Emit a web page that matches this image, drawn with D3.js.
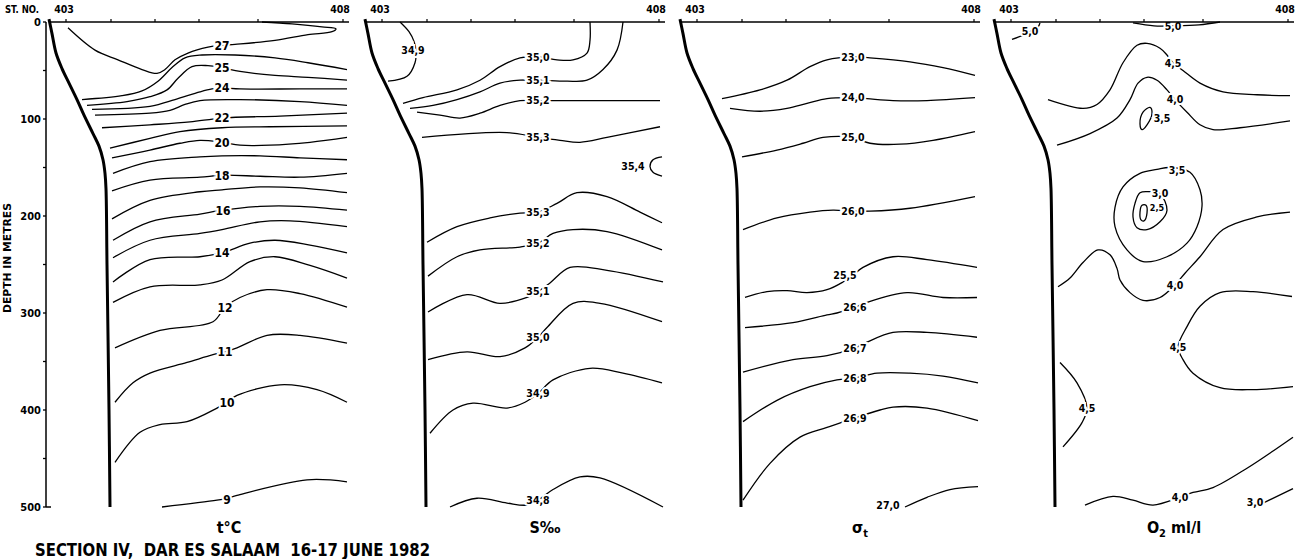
<!DOCTYPE html>
<html><head><meta charset="utf-8">
<script src="https://cdn.jsdelivr.net/npm/d3@7"></script>
<style>body{margin:0;background:#fff}</style>
</head><body>
<svg id="c" width="1300" height="559"></svg>
<script>
// ---------- data ----------
const depthTicks = [0, 100, 200, 300, 400, 500];
const depthMinorTicks = [50, 150, 250, 350, 450];
const stations = [17, 62, 106, 150, 209, 294];          // distance units along section
const stationNames = ["403", "408"];
const panelTitles = ["t°C", "S‰", "σt", "O2 ml/l"];
const sectionTitle = "SECTION IV,  DAR ES SALAAM  16-17 JUNE 1982";
const bathymetry = [[0,-3],[3,12],[7,32],[13,48],[20,63],[28,80],[35,96],[44,115],[50,128],[54,142],[56,156],[57,172],[58,250],[60,400],[61,500]];

const tempContours = [
 {v:"27", p:[[19,6],[46,29],[69,39],[93,49],[108,53],[116,49],[126,39],[139,32],[159,26],[173,24],[186,23],[226,19],[259,13],[283,10],[287,7],[273,5],[243,2],[213,0]]},
 {v:"26", p:[[33,80],[73,76],[93,71],[109,61],[123,47],[136,37],[153,34],[186,34],[226,37],[259,42],[298,49]]},
 {v:"25", p:[[38,86],[78,82],[101,77],[118,70],[129,58],[143,46],[159,45],[173,47],[191,51],[226,55],[259,57],[298,60]]},
 {v:"24", p:[[43,90],[101,87],[126,80],[151,72],[163,69],[173,68],[191,69],[251,69],[298,69]]},
 {v:"23", p:[[46,96],[101,94],[121,91],[136,85],[151,81],[191,80],[251,82],[298,86]]},
 {v:"22", p:[[53,109],[101,106],[141,103],[173,99],[231,97],[298,94]]},
 {v:"21", p:[[61,130],[101,120],[131,113],[173,109],[221,108],[298,107]]},
 {v:"20", p:[[63,140],[101,132],[131,125],[151,122],[173,124],[191,127],[221,127],[261,124],[298,119]]},
 {v:"19", p:[[64,156],[101,144],[151,139],[173,138],[211,138],[251,140],[298,142]]},
 {v:"18", p:[[63,174],[101,163],[151,160],[173,158],[211,159],[251,160],[298,156]]},
 {v:"17", p:[[63,203],[101,184],[151,175],[173,173],[211,170],[251,171],[298,176]]},
 {v:"16", p:[[64,225],[101,206],[151,198],[173,194],[211,190],[251,190],[298,194]]},
 {v:"15", p:[[64,243],[101,225],[151,218],[173,214],[211,206],[241,205],[298,211]]},
 {v:"14", p:[[64,268],[101,245],[151,242],[173,238],[201,228],[226,225],[261,230],[298,238]]},
 {v:"13", p:[[64,289],[101,273],[151,271],[173,266],[201,247],[226,242],[261,251],[298,264]]},
 {v:"12", p:[[66,336],[111,318],[164,309],[176,294],[191,284],[218,276],[251,280],[298,294]]},
 {v:"11", p:[[66,392],[84,372],[101,362],[138,351],[164,343],[176,340],[188,336],[218,323],[251,323],[298,331]]},
 {v:"10", p:[[66,454],[91,423],[111,415],[138,412],[168,398],[178,392],[188,385],[231,374],[268,379],[298,392]]},
 {v:"9",  p:[[113,500],[168,493],[178,491],[188,488],[258,472],[298,474]]}
];
const tempLabels = [["27",173,24],["25",173,47],["24",173,68],["22",173,99],["20",173,124],["18",173,158],["16",174,194],["14",173,238],["12",176,294],["11",176,340],["10",178,392],["9",178,492]];

const salContours = [
 {v:"34.9", p:[[35,0],[44,10],[49,20],[51,29],[50,42],[42,56],[23,61]]},
 {v:"35.0", p:[[225,0],[225,19],[222,32],[208,39],[192,39],[173,36],[155,37],[135,46],[115,60],[92,70],[58,78],[38,84]]},
 {v:"35.1", p:[[258,0],[252,29],[238,49],[222,60],[202,61],[173,60],[155,60],[135,63],[115,72],[92,80],[68,86],[45,89]]},
 {v:"35.2", p:[[52,93],[75,96],[95,99],[115,94],[135,86],[155,81],[173,81],[188,81],[295,81]]},
 {v:"35.3", p:[[57,119],[142,114],[173,119],[195,122],[215,124],[242,119],[295,108]]},
 {v:"35.4", p:[[297,139],[288,142],[285,149],[288,155],[297,159]]},
 {v:"35.3", p:[[62,227],[92,211],[125,202],[155,197],[173,196],[192,187],[212,176],[242,180],[275,196],[297,207]]},
 {v:"35.2", p:[[63,262],[92,242],[115,235],[155,232],[173,228],[188,218],[208,214],[242,216],[297,235]]},
 {v:"35.1", p:[[63,299],[102,281],[135,290],[162,284],[173,278],[185,269],[205,253],[242,256],[298,268]]},
 {v:"35.0", p:[[63,348],[102,340],[135,345],[160,336],[173,325],[182,315],[208,290],[235,290],[297,309]]},
 {v:"34.9", p:[[65,424],[88,400],[108,393],[142,398],[160,392],[173,383],[188,369],[225,357],[258,362],[297,372]]},
 {v:"34.8", p:[[85,500],[112,491],[142,496],[162,498],[173,493],[188,482],[215,469],[235,470],[298,500]]}
];
const salLabels = [["34,9",48,29],["35,0",173,36],["35,1",173,60],["35,2",173,81],["35,3",173,119],["35,4",268,149],["35,3",173,196],["35,2",173,228],["35,1",173,278],["35,0",173,325],["34,9",173,383],["34,8",173,493]];

const sigmaContours = [
 {v:"23.0", p:[[42,79],[80,70],[107,60],[130,46],[147,39],[173,36],[190,37],[230,41],[263,47],[295,55]]},
 {v:"24.0", p:[[50,89],[80,92],[107,89],[127,84],[147,79],[173,78],[187,79],[213,81],[247,81],[295,78]]},
 {v:"25.0", p:[[62,139],[97,132],[123,125],[143,119],[173,119],[190,125],[220,126],[253,122],[295,113]]},
 {v:"26.0", p:[[63,214],[97,202],[130,196],[153,194],[173,195],[190,195],[230,192],[295,180]]},
 {v:"26.5", p:[[65,284],[87,278],[107,277],[127,279],[147,276],[163,268],[173,261],[183,253],[213,242],[247,245],[297,253]]},
 {v:"26.6", p:[[65,315],[113,310],[147,302],[157,300],[175,294],[187,289],[227,279],[263,284],[297,284]]},
 {v:"26.7", p:[[63,361],[113,348],[147,344],[175,336],[187,330],[213,320],[247,320],[297,325]]},
 {v:"26.8", p:[[63,412],[97,390],[130,376],[157,369],[175,367],[197,362],[230,362],[263,365],[298,372]]},
 {v:"26.9", p:[[63,493],[90,455],[120,428],[147,418],[175,408],[200,400],[213,397],[247,398],[298,411]]},
 {v:"27.0", p:[[225,500],[247,490],[270,482],[298,479]]}
];
const sigmaLabels = [["23,0",173,36],["24,0",173,78],["25,0",173,119],["26,0",173,195],["25,5",165,261],["26,6",175,294],["26,7",175,336],["26,8",175,367],["26,9",175,408],["27,0",208,498]];

const oxyContours = [
 {v:"5.0", p:[[18,18],[28,14],[36,10],[44,5],[46,1]]},
 {v:"5.0", p:[[139,1],[160,4],[179,4],[205,3],[226,0]]},
 {v:"4.5", p:[[54,80],[89,89],[103,85],[116,70],[129,42],[143,24],[153,22],[166,27],[173,34],[179,42],[189,50],[206,63],[229,72],[263,75],[296,76]]},
 {v:"4.0", p:[[63,127],[96,115],[123,99],[136,80],[144,63],[153,57],[163,60],[173,70],[181,80],[193,93],[206,106],[219,111],[246,109],[296,102]]},
 {v:"3.5", closed:true, p:[[156,88],[158,94],[153,106],[148,111],[146,105],[149,93]]},
 {v:"3.5", closed:true, p:[[176,150],[196,155],[206,173],[208,190],[203,211],[193,228],[173,242],[149,247],[133,235],[121,211],[121,191],[129,170],[146,156],[163,152]]},
 {v:"3.0", closed:true, p:[[146,176],[156,175],[166,177],[173,194],[166,206],[153,214],[143,212],[139,201],[141,187]]},
 {v:"2.5", closed:true, p:[[152,189],[153,197],[150,205],[147,204],[146,196],[148,189]]},
 {v:"4.0", p:[[64,273],[76,264],[89,248],[104,235],[116,240],[123,254],[126,266],[136,279],[149,287],[166,284],[181,271],[191,259],[206,242],[229,214],[263,201],[296,196]]},
 {v:"4.5", p:[[298,283],[259,278],[226,279],[206,293],[193,314],[184,335],[189,348],[199,362],[226,377],[259,379],[299,376]]},
 {v:"4.5", p:[[66,351],[83,372],[93,398],[88,413],[69,438]]},
 {v:"4.0", p:[[91,498],[119,489],[139,493],[159,498],[186,490],[199,485],[219,480],[253,460],[299,428]]},
 {v:"3.0", p:[[269,496],[299,481]]}
];
const oxyLabels = [["5,0",36,10],["5,0",179,4],["4,5",179,42],["4,0",181,80],["3,5",168,99],["3,5",183,153],["3,0",166,177],["2,5",163,192],["4,0",181,271],["4,5",184,335],["4,5",93,398],["4,0",186,490],["3,0",261,495]];

// ---------- layout ----------
const svg = d3.select("#c");
svg.append("rect").attr("width",1300).attr("height",559).attr("fill","#fff");
const FONT = "'DejaVu Sans Condensed','DejaVu Sans',sans-serif";
const panelLeft = [49, 365, 680, 994];
const y = d3.scaleLinear().domain([0,500]).range([22,507]);
const noHalo = new Set(["2,5"]);

const panels = [
 {c:tempContours, l:tempLabels, fs:12},
 {c:salContours, l:salLabels, fs:10.5},
 {c:sigmaContours, l:sigmaLabels, fs:10.5},
 {c:oxyContours, l:oxyLabels, fs:10.5}
];

panels.forEach((P, i) => {
  const x = d3.scaleLinear().domain([0,300]).range([panelLeft[i], panelLeft[i]+300]);
  const g = svg.append("g");
  const line = d3.line().x(d=>x(d[0])).y(d=>y(d[1])).curve(d3.curveCatmullRom.alpha(0.5));
  const lineC = d3.line().x(d=>x(d[0])).y(d=>y(d[1])).curve(d3.curveCatmullRomClosed.alpha(0.5));
  g.selectAll("path.ct").data(P.c).join("path")
    .attr("d", d => d.closed ? lineC(d.p) : line(d.p))
    .attr("fill","none").attr("stroke","#000").attr("stroke-width",1.3);
  g.selectAll("text.lb").data(P.l).join("text")
    .attr("x", d=>x(d[1])).attr("y", d=>y(d[2])).attr("dy","0.36em")
    .attr("text-anchor","middle").attr("font-family",FONT).attr("font-weight","bold")
    .attr("font-size",d=>noHalo.has(d[0]) ? 9 : P.fs).attr("fill","#000")
    .attr("stroke","#fff").attr("stroke-width",d=>noHalo.has(d[0]) ? 0 : 4).attr("paint-order","stroke")
    .text(d=>d[0]);
  // top axis
  g.append("line").attr("x1",x(0)).attr("x2",x(300)).attr("y1",y(0)).attr("y2",y(0))
    .attr("stroke","#000").attr("stroke-width",1.6);
  g.selectAll("line.st").data(stations).join("line")
    .attr("x1",d=>x(d)).attr("x2",d=>x(d)).attr("y1",y(0)).attr("y2",y(0)-3)
    .attr("stroke","#000").attr("stroke-width",1.2);
  [stations[0], stations[stations.length-1]].forEach((s,k)=>{
    g.append("text").attr("x",x(s)+(k===0?-2:-3)).attr("y",13).attr("text-anchor","middle")
      .attr("font-family",FONT).attr("font-weight","bold").attr("font-size",10.5).text(stationNames[k]);
  });
  // bathymetry
  g.append("path").attr("d", d3.line().x(d=>x(d[0])).y(d=>y(d[1])).curve(d3.curveCatmullRom.alpha(0.5))(bathymetry))
    .attr("fill","none").attr("stroke","#000").attr("stroke-width",3);
  // panel title
  const t = g.append("text").attr("x",x(180)).attr("y",533).attr("text-anchor","middle")
    .attr("font-family",FONT).attr("font-weight","bold").attr("font-size",16);
  if (i===2) { t.text("σ"); t.append("tspan").attr("font-size",11).attr("dy",4).text("t"); }
  else if (i===3) { t.text("O"); t.append("tspan").attr("font-size",11).attr("dy",4).text("2");
                    t.append("tspan").attr("dy",-4).text(" ml/l"); }
  else t.text(panelTitles[i]);
});

// depth axis (panel 1)
svg.append("line").attr("x1",46).attr("x2",46).attr("y1",y(0)).attr("y2",y(500)).attr("stroke","#000").attr("stroke-width",1.5);
svg.selectAll("line.mt").data(depthTicks.concat(depthMinorTicks)).join("line")
  .attr("x1",43).attr("x2",46).attr("y1",d=>y(d)).attr("y2",d=>y(d)).attr("stroke","#000").attr("stroke-width",1.3);
svg.append("line").attr("x1",46).attr("x2",51).attr("y1",y(500)).attr("y2",y(500)).attr("stroke","#000").attr("stroke-width",1.5);
svg.selectAll("text.dt").data(depthTicks).join("text")
  .attr("x",41).attr("y",d=>y(d)).attr("dy","0.36em").attr("text-anchor","end")
  .attr("font-family",FONT).attr("font-weight","bold").attr("font-size",11).text(d=>d);
svg.append("text").attr("transform","translate(11,258) rotate(-90)").attr("text-anchor","middle")
  .attr("font-family",FONT).attr("font-weight","bold").attr("font-size",10.5)
  .attr("textLength",110).attr("lengthAdjust","spacingAndGlyphs").text("DEPTH IN METRES");
svg.append("text").attr("x",5).attr("y",13).attr("font-family",FONT).attr("font-weight","bold")
  .attr("font-size",10.5).attr("textLength",34).attr("lengthAdjust","spacingAndGlyphs").text("ST. NO.");
svg.append("text").attr("x",35).attr("y",556).attr("font-family",FONT).attr("font-weight","bold")
  .attr("font-size",17).attr("textLength",395).attr("lengthAdjust","spacingAndGlyphs")
  .attr("xml:space","preserve").style("white-space","pre").text(sectionTitle);
</script>
</body></html>
